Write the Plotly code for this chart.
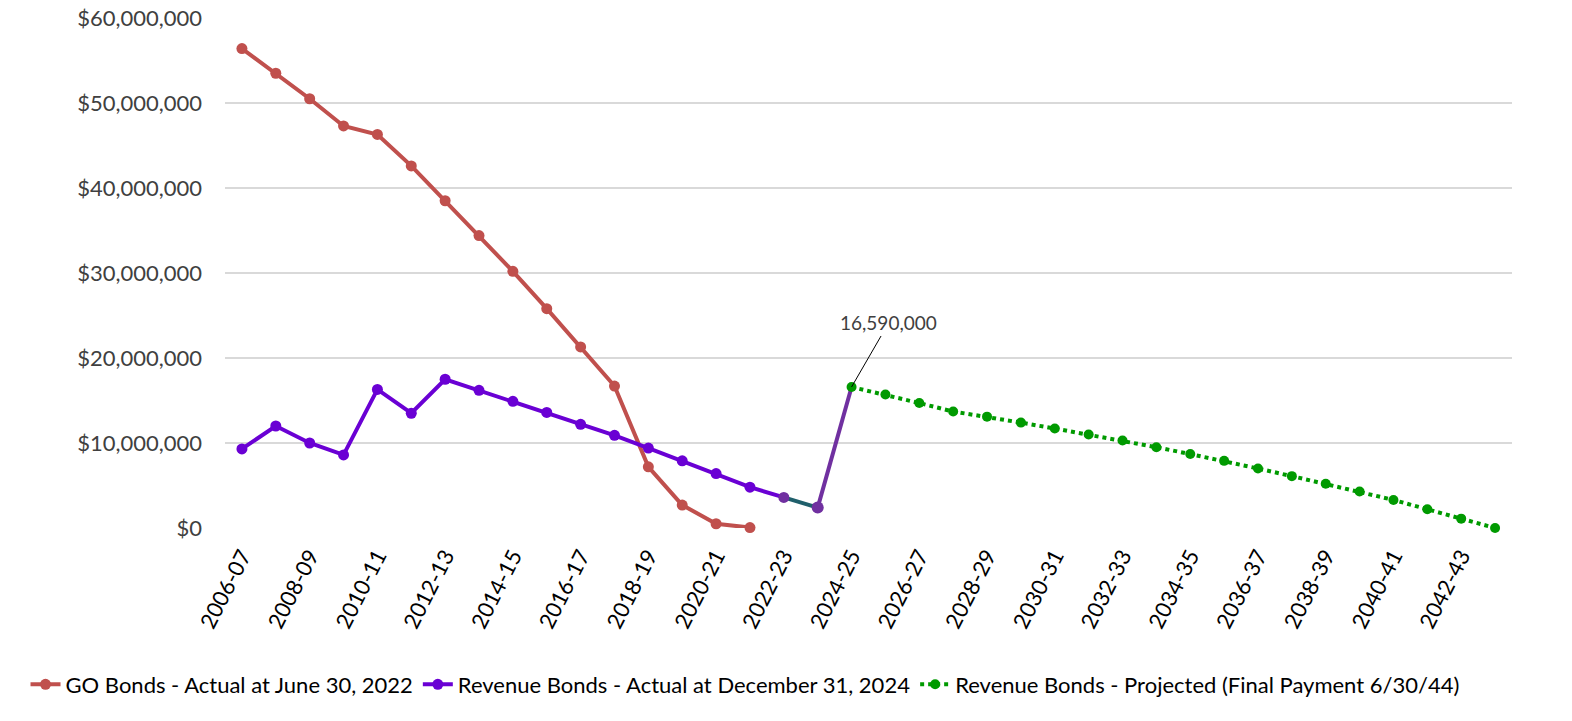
import plotly.graph_objects as go

# fiscal years 2006-07 .. 2043-44
years = ["%d-%02d" % (y, (y + 1) % 100) for y in range(2006, 2044)]

go_bonds = [56.4e6, 53.5e6, 50.5e6, 47.3e6, 46.3e6, 42.6e6, 38.5e6, 34.4e6,
            30.2e6, 25.8e6, 21.3e6, 16.7e6, 7.2e6, 2.7e6, 0.5e6, 0.05e6]

rev_actual = [9.3e6, 12.0e6, 10.0e6, 8.6e6, 16.3e6, 13.5e6, 17.5e6, 16.2e6,
              14.9e6, 13.6e6, 12.2e6, 10.9e6, 9.4e6, 7.9e6, 6.4e6, 4.8e6,
              3.6e6, 2.4e6, 16.59e6]

rev_projected = [16.59e6, 15.7e6, 14.7e6, 13.7e6, 13.1e6, 12.4e6, 11.7e6,
                 11.0e6, 10.3e6, 9.5e6, 8.7e6, 7.9e6, 7.0e6, 6.1e6, 5.2e6,
                 4.3e6, 3.3e6, 2.2e6, 1.1e6, 0.0]

red = "#C0504D"
purple = "#6A00D4"
purple2 = "#7030A0"
teal = "#1F5F6B"
green = "#009A00"
txt = "#404040"

n_act = len(rev_actual)
fig = go.Figure()

fig.add_trace(go.Scatter(
    x=years[:len(go_bonds)], y=go_bonds, mode="lines+markers",
    name="GO Bonds - Actual at June 30, 2022",
    line=dict(color=red, width=4), marker=dict(color=red, size=11),
    cliponaxis=False))

# last two actual segments were recoloured in the source
fig.add_trace(go.Scatter(
    x=years[n_act - 3:n_act - 1], y=rev_actual[n_act - 3:n_act - 1],
    mode="lines", line=dict(color=teal, width=4), showlegend=False,
    hoverinfo="skip"))
fig.add_trace(go.Scatter(
    x=years[n_act - 2:n_act], y=rev_actual[n_act - 2:n_act],
    mode="lines", line=dict(color=purple2, width=4), showlegend=False,
    hoverinfo="skip"))

fig.add_trace(go.Scatter(
    x=years[:n_act - 2], y=rev_actual[:n_act - 2], mode="lines+markers",
    name="Revenue Bonds - Actual at December 31, 2024",
    line=dict(color=purple, width=4),
    marker=dict(color=[purple] * (n_act - 3) + [purple2], size=11),
    cliponaxis=False))
fig.add_trace(go.Scatter(
    x=years[n_act - 2:n_act - 1], y=rev_actual[n_act - 2:n_act - 1],
    mode="markers", marker=dict(color=purple2, size=12), showlegend=False))

start = years.index("2024-25")
fig.add_trace(go.Scatter(
    x=years[start:start + len(rev_projected)], y=rev_projected,
    mode="lines+markers",
    name="Revenue Bonds - Projected (Final Payment 6/30/44)",
    line=dict(color=green, width=4, dash="dot"),
    marker=dict(color=green, size=10), cliponaxis=False))

fig.add_annotation(x="2024-25", y=rev_projected[0], text="16,590,000",
                   showarrow=True, arrowhead=0, arrowwidth=1,
                   arrowcolor="#000000", ax=37, ay=-64,
                   font=dict(size=19, color=txt))

fig.update_xaxes(type="category", categoryorder="array", categoryarray=years,
                 range=[-0.5, len(years) - 0.5], automargin=False,
                 tickmode="array", tickvals=years[::2], tickangle=-63,
                 ticklabelstandoff=10,
                 showgrid=False, showline=False, ticks="",
                 tickfont=dict(size=22, color="#000000"))
fig.update_yaxes(range=[0, 60e6], tickvals=[i * 10e6 for i in range(7)],
                 tickformat="$,.0f", showgrid=True, gridcolor="#D9D9D9",
                 gridwidth=1.5, zeroline=False, showline=False, ticks="",
                 ticklabelstandoff=22,
                 automargin=False, tickfont=dict(size=22, color=txt))

fig.update_layout(
    width=1572, height=721,
    paper_bgcolor="white", plot_bgcolor="white",
    font=dict(family="Lato, 'Open Sans', sans-serif", color=txt),
    margin=dict(l=225, r=60, t=18, b=193),
    legend=dict(orientation="h", x=-0.155, xanchor="left",
                y=-0.348, yanchor="bottom",
                font=dict(size=22, color="#000000")),
)

fig.write_html("out.html", config={"displayModeBar": False},
               post_script="document.body.style.margin='0';")
